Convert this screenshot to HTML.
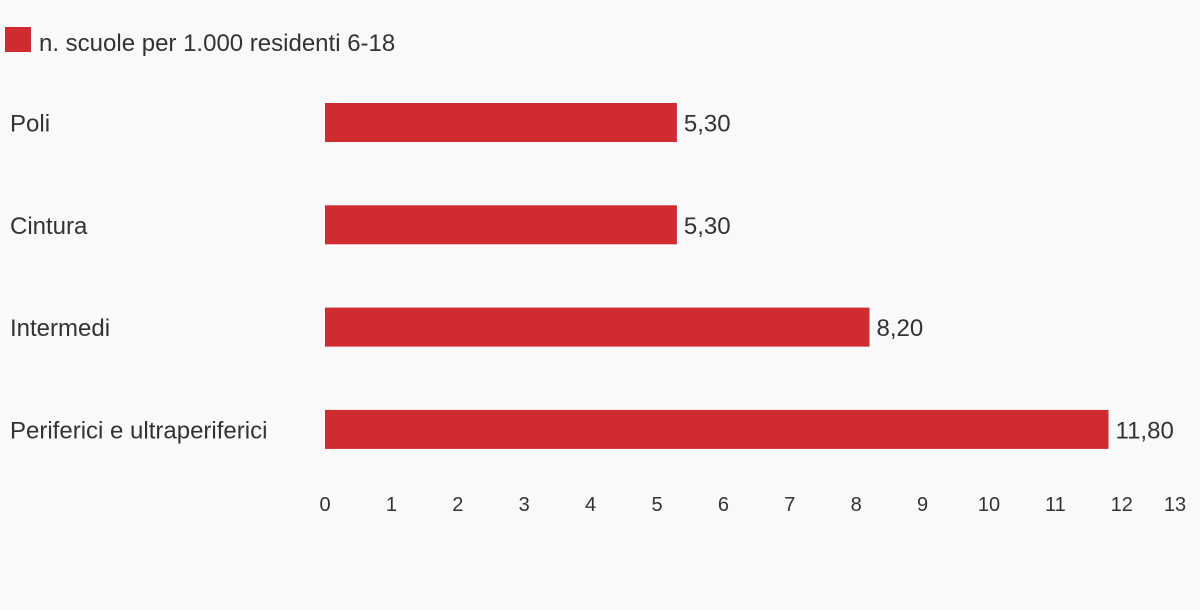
<!DOCTYPE html>
<html><head><meta charset="utf-8"><style>
body{margin:0;background:#f9f9f9;}
svg{display:block;font-family:"Liberation Sans",sans-serif;}
</style></head><body>
<svg width="1200" height="610">
<rect width="1200" height="610" fill="#f9f9f9"/>
<g>
<rect x="5" y="27" width="26" height="25" fill="#d12b32"/>
<text x="39" y="51" font-size="24" fill="#333">n. scuole per 1.000 residenti 6-18</text>
</g>
<g id="plot"></g>
</svg>
<script>
const categories=["Poli","Cintura","Intermedi","Periferici e ultraperiferici"];
const values=[5.3,5.3,8.2,11.8];
const valueLabels=["5,30","5,30","8,20","11,80"];
const ticks=[0,1,2,3,4,5,6,7,8,9,10,11,12,13];
const x0=325,unit=66.4;
function xs(v){return x0+v*unit;}
function ys(i){return 103+i*102.3;}
const bh=39;
const g=document.getElementById('plot');
const NS="http://www.w3.org/2000/svg";
categories.forEach((c,i)=>{
 const y=ys(i);
 const t=document.createElementNS(NS,'text');
 
 
 t.setAttribute('x',10);t.setAttribute('y',y+bh/2+9);t.setAttribute('font-size','24');t.setAttribute('fill','#333');
 t.textContent=c;g.appendChild(t);
 const r=document.createElementNS(NS,'rect');
 
 
 r.setAttribute('x',xs(0));r.setAttribute('y',y);r.setAttribute('width',xs(values[i])-xs(0));r.setAttribute('height',bh);r.setAttribute('fill','#d12b32');
 g.appendChild(r);
 const v=document.createElementNS(NS,'text');
 
 
 v.setAttribute('x',xs(values[i])+7);v.setAttribute('y',y+bh/2+9);v.setAttribute('font-size','24');v.setAttribute('fill','#333');
 v.textContent=valueLabels[i];g.appendChild(v);
});
ticks.forEach(tk=>{
 const t=document.createElementNS(NS,'text');
 
 
 t.setAttribute('x',Math.min(xs(tk),1175));t.setAttribute('y',511);t.setAttribute('font-size','20');t.setAttribute('fill','#333');t.setAttribute('text-anchor','middle');
 t.textContent=tk;g.appendChild(t);
});
</script>
</body></html>
